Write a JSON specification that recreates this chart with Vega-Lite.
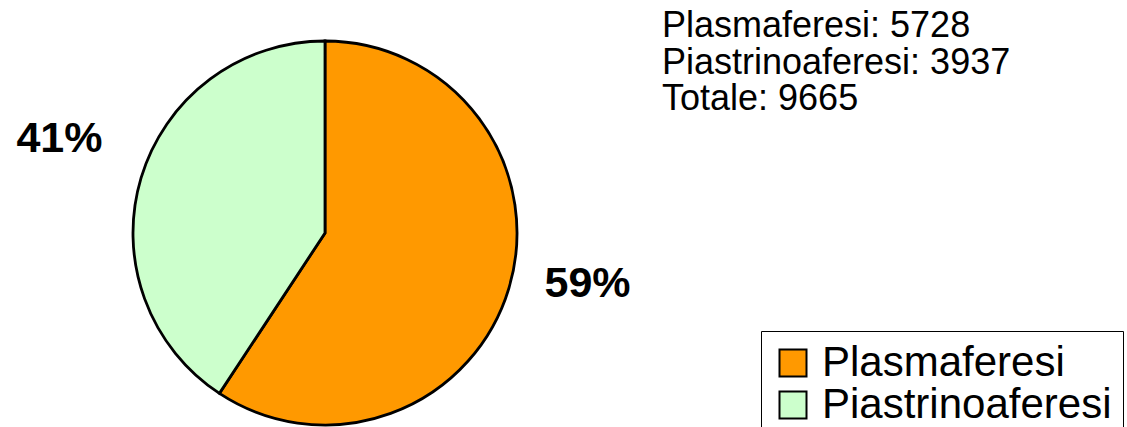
{
  "$schema": "https://vega.github.io/schema/vega-lite/v6.json",
  "width": 650,
  "height": 466,
  "autosize": "none",
  "padding": {"left": 0, "top": 0, "right": 477, "bottom": 0},
  "background": "white",
  "config": {"view": {"stroke": null}, "font": "Liberation Sans"},
  "data": {"values": [
    {"category": "Plasmaferesi", "value": 5728, "pct": "59%", "ord": 1},
    {"category": "Piastrinoaferesi", "value": 3937, "pct": "41%", "ord": 2}
  ]},
  "layer": [
    {
      "mark": {"type": "arc", "outerRadius": 192, "stroke": "black", "strokeWidth": 2.8},
      "encoding": {
        "theta": {"field": "value", "type": "quantitative", "stack": true},
        "order": {"field": "ord", "type": "quantitative"},
        "color": {
          "field": "category", "type": "nominal",
          "scale": {"domain": ["Plasmaferesi", "Piastrinoaferesi"], "range": ["#FF9900", "#CCFFCC"]},
          "legend": {
            "orient": "none", "legendX": 761, "legendY": 331, "title": null,
            "strokeColor": "black", "fillColor": "white", "padding": 11,
            "symbolType": "square", "symbolSize": 729, "symbolStrokeColor": "black",
            "symbolStrokeWidth": 2, "symbolOpacity": 1,
            "labelFontSize": 42, "labelFont": "Liberation Sans", "labelColor": "black",
            "labelOffset": 8, "rowPadding": -5, "labelLimit": 0
          }
        }
      }
    },
    {
      "mark": {"type": "text", "radius": 272, "dy": -16, "dx": -5, "fontSize": 43, "fontWeight": "bold", "font": "Liberation Sans", "color": "black"},
      "encoding": {
        "theta": {"field": "value", "type": "quantitative", "stack": true},
        "order": {"field": "ord", "type": "quantitative"},
        "text": {"condition": {"test": "datum.ord == 2", "field": "pct"}, "value": ""}
      }
    },
    {
      "mark": {"type": "text", "radius": 272, "dy": -27, "dx": 2, "fontSize": 43, "fontWeight": "bold", "font": "Liberation Sans", "color": "black"},
      "encoding": {
        "theta": {"field": "value", "type": "quantitative", "stack": true},
        "order": {"field": "ord", "type": "quantitative"},
        "text": {"condition": {"test": "datum.ord == 1", "field": "pct"}, "value": ""}
      }
    },
    {
      "data": {"values": [
        {"line": "Plasmaferesi: 5728"},
        {"line": "Piastrinoaferesi: 3937"},
        {"line": "Totale: 9665"}
      ]},
      "mark": {"type": "text", "x": 662, "align": "left", "baseline": "alphabetic", "fontSize": 36, "font": "Liberation Sans", "color": "black"},
      "encoding": {
        "y": {"field": "line", "type": "ordinal", "sort": null, "scale": {"type": "point", "range": [37, 110], "padding": 0}, "axis": null},
        "text": {"field": "line"}
      }
    }
  ]
}
